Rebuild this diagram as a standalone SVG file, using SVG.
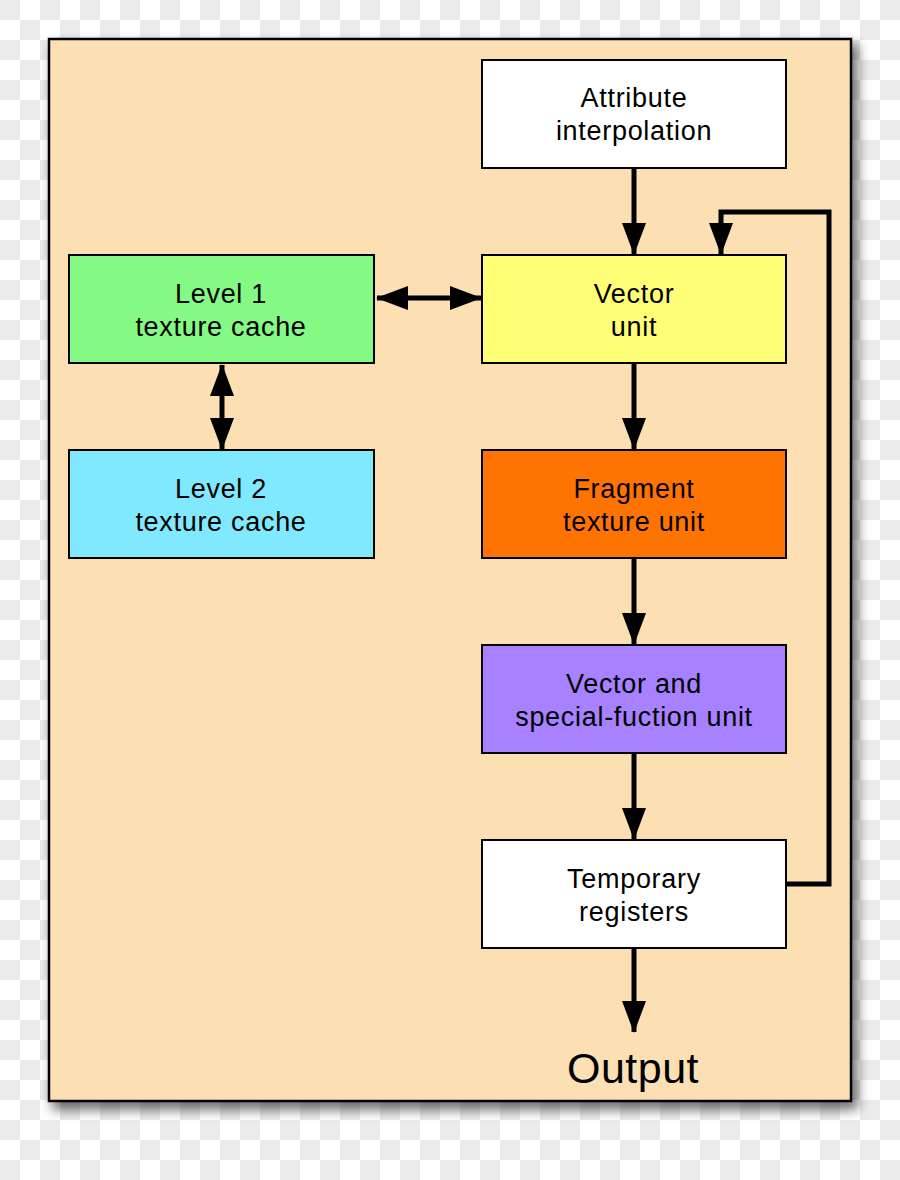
<svg xmlns="http://www.w3.org/2000/svg" width="900" height="1180" viewBox="0 0 900 1180">
<defs>
<pattern id="checker" x="0" y="0" width="40" height="40" patternUnits="userSpaceOnUse">
<rect width="40" height="40" fill="#ffffff"/>
<rect width="20" height="20" fill="#ebebeb"/>
<rect x="20" y="20" width="20" height="20" fill="#ebebeb"/>
</pattern>
<filter id="shadow" x="-10%" y="-10%" width="120%" height="120%">
<feGaussianBlur stdDeviation="6"/>
</filter>
<marker id="ah" viewBox="0 0 32 24" refX="31" refY="12" markerWidth="32" markerHeight="24" markerUnits="userSpaceOnUse" orient="auto-start-reverse">
<path d="M0,0 L32,12 L0,24 Z" fill="#000"/>
</marker>
<style>
.box{stroke:#000;stroke-width:2}
.lbl{font-family:"Liberation Sans",Arial,Helvetica,sans-serif;font-size:27px;letter-spacing:0.7px;fill:#000;text-anchor:middle}
.conn{stroke:#000;stroke-width:5;fill:none}
</style>
</defs>
<rect width="900" height="1180" fill="url(#checker)"/>
<rect x="52" y="44" width="806" height="1066" fill="#000" opacity="0.55" filter="url(#shadow)"/>
<rect id="panel" x="49" y="39" width="802" height="1062" fill="#FDDFB4" stroke="#000" stroke-width="2.5"/>

<g id="attr">
<rect class="box" x="482" y="60" width="304" height="108" fill="#ffffff"/>
<text class="lbl" x="634" y="107">Attribute</text>
<text class="lbl" x="634" y="140">interpolation</text>
</g>
<g id="vector">
<rect class="box" x="482" y="255" width="304" height="108" fill="#FFFF77"/>
<text class="lbl" x="634" y="303">Vector</text>
<text class="lbl" x="634" y="336">unit</text>
</g>
<g id="l1">
<rect class="box" x="69" y="255" width="305" height="108" fill="#84F984"/>
<text class="lbl" x="221" y="303">Level 1</text>
<text class="lbl" x="221" y="336">texture cache</text>
</g>
<g id="l2">
<rect class="box" x="69" y="450" width="305" height="108" fill="#80E8FF"/>
<text class="lbl" x="221" y="498">Level 2</text>
<text class="lbl" x="221" y="531">texture cache</text>
</g>
<g id="fragment">
<rect class="box" x="482" y="450" width="304" height="108" fill="#FF7300"/>
<text class="lbl" x="634" y="498">Fragment</text>
<text class="lbl" x="634" y="531">texture unit</text>
</g>
<g id="vsfu">
<rect class="box" x="482" y="645" width="304" height="108" fill="#A781FF"/>
<text class="lbl" x="634" y="693">Vector and</text>
<text class="lbl" x="634" y="726">special-fuction unit</text>
</g>
<g id="temp">
<rect class="box" x="482" y="840" width="304" height="108" fill="#ffffff"/>
<text class="lbl" x="634" y="888">Temporary</text>
<text class="lbl" x="634" y="921">registers</text>
</g>
<g id="output">
<text x="633" y="1083" font-family="'Liberation Sans',Arial,Helvetica,sans-serif" font-size="43" letter-spacing="0.5" text-anchor="middle" fill="#000">Output</text>
</g>

<g id="connectors">
<line class="conn" x1="634" y1="168" x2="634" y2="254" marker-end="url(#ah)"/>
<polyline class="conn" points="786,884 829,884 829,212 721,212 721,254" stroke-linejoin="miter" marker-end="url(#ah)"/>
<line class="conn" x1="377" y1="298" x2="481" y2="298" marker-start="url(#ah)" marker-end="url(#ah)"/>
<line class="conn" x1="222" y1="365" x2="222" y2="449" marker-start="url(#ah)" marker-end="url(#ah)"/>
<line class="conn" x1="634" y1="363" x2="634" y2="449" marker-end="url(#ah)"/>
<line class="conn" x1="634" y1="558" x2="634" y2="644" marker-end="url(#ah)"/>
<line class="conn" x1="634" y1="753" x2="634" y2="839" marker-end="url(#ah)"/>
<line class="conn" x1="634" y1="948" x2="634" y2="1032" marker-end="url(#ah)"/>
</g>
</svg>
